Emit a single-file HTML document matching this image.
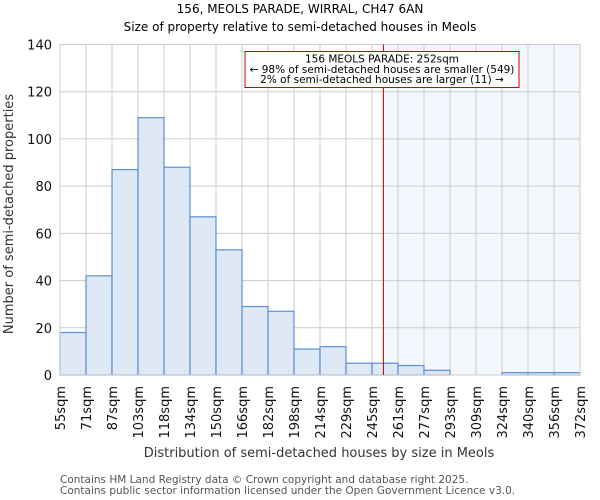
<!DOCTYPE html>
<html><head><meta charset="utf-8"><style>
body{margin:0;background:#fff}
svg{display:block;font-family:"DejaVu Sans","Liberation Sans",sans-serif}
</style></head><body>
<svg id="chart" width="600" height="500" xmlns="http://www.w3.org/2000/svg">
<text x="300" y="13" text-anchor="middle" font-size="12" fill="#000">156, MEOLS PARADE, WIRRAL, CH47 6AN</text>
<text x="300" y="31" text-anchor="middle" font-size="12" fill="#000">Size of property relative to semi-detached houses in Meols</text>
<g id="plot"></g>
<text transform="translate(13,214) rotate(-90)" text-anchor="middle" font-size="13" fill="#333">Number of semi-detached properties</text>
<text x="319" y="457" text-anchor="middle" font-size="13" fill="#333">Distribution of semi-detached houses by size in Meols</text>
<text x="60" y="483" font-size="10.5" fill="#555">Contains HM Land Registry data © Crown copyright and database right 2025.</text>
<text x="60" y="494" font-size="10.5" fill="#555">Contains public sector information licensed under the Open Government Licence v3.0.</text>
</svg>
<script>
const tickLabels = ["55sqm","71sqm","87sqm","103sqm","118sqm","134sqm","150sqm","166sqm","182sqm","198sqm","214sqm","229sqm","245sqm","261sqm","277sqm","293sqm","309sqm","324sqm","340sqm","356sqm","372sqm"];
const counts = [18,42,87,109,88,67,53,29,27,11,12,5,5,4,2,0,0,1,1,1];
const yTicks = [0,20,40,60,80,100,120,140];
const markerValue = 252;
const binEdges = [55,71,87,103,118,134,150,166,182,198,214,229,245,261,277,293,309,324,340,356,372];

const NS="http://www.w3.org/2000/svg";
const g=document.getElementById('plot');
const X0=60,X1=580,Y0=375,Y1=44.5,YMAX=140;
const bw=(X1-X0)/counts.length;
const xi=i=>X0+i*bw;
const y=v=>Y0-(v/YMAX)*(Y0-Y1);
function xv(v){for(let i=0;i<binEdges.length-1;i++){if(v<=binEdges[i+1])return xi(i)+(v-binEdges[i])/(binEdges[i+1]-binEdges[i])*bw;}return X1;}
function el(t,a){const e=document.createElementNS(NS,t);for(const k in a)e.setAttribute(k,a[k]);g.appendChild(e);return e;}
const mx=xv(markerValue);
let e=el('rect',{x:mx,y:Y1,width:X1-mx,height:Y0-Y1,fill:'#f3f6fd'});


yTicks.forEach(t=>{
 let l=el('line',{x1:X0,x2:X1,y1:y(t),y2:y(t),stroke:'#cccccc','stroke-width':1});
 
 
 let tx=el('text',{x:X0-8,y:y(t)+5,'text-anchor':'end','font-size':13,fill:'#111'});
 tx.textContent=t;
 
 
});
tickLabels.forEach((s,i)=>{
 let l=el('line',{x1:xi(i),x2:xi(i),y1:Y1,y2:Y0,stroke:'#cccccc','stroke-width':1});
 
 
 let tx=el('text',{transform:`translate(${xi(i)+5},386) rotate(-90)`,'text-anchor':'end','font-size':13,fill:'#111'});
 tx.textContent=s;
 
 
});
counts.forEach((c,i)=>{
 if(c<=0)return;
 let r=el('rect',{x:xi(i),y:y(c),width:bw,height:Y0-y(c),fill:'#dce6f4','fill-opacity':0.9,stroke:'#5b8fd6','stroke-width':1.2});
 
 
});
let ax=el('rect',{x:X0,y:Y1,width:X1-X0,height:Y0-Y1,fill:'none',stroke:'#cccccc','stroke-width':1});


let ml=el('line',{x1:mx,x2:mx,y1:Y1,y2:Y0,stroke:'#aa0000','stroke-width':1});


let box=el('rect',{x:245,y:51.5,width:274,height:36,fill:'#fff',stroke:'#cc0000','stroke-width':1});


["156 MEOLS PARADE: 252sqm","← 98% of semi-detached houses are smaller (549)","2% of semi-detached houses are larger (11) →"].forEach((s,i)=>{
 let t=el('text',{x:382,y:62.5+i*10.3,'text-anchor':'middle','font-size':10.5,fill:'#000'});
 t.textContent=s;
 
 
});
</script>
</body></html>
